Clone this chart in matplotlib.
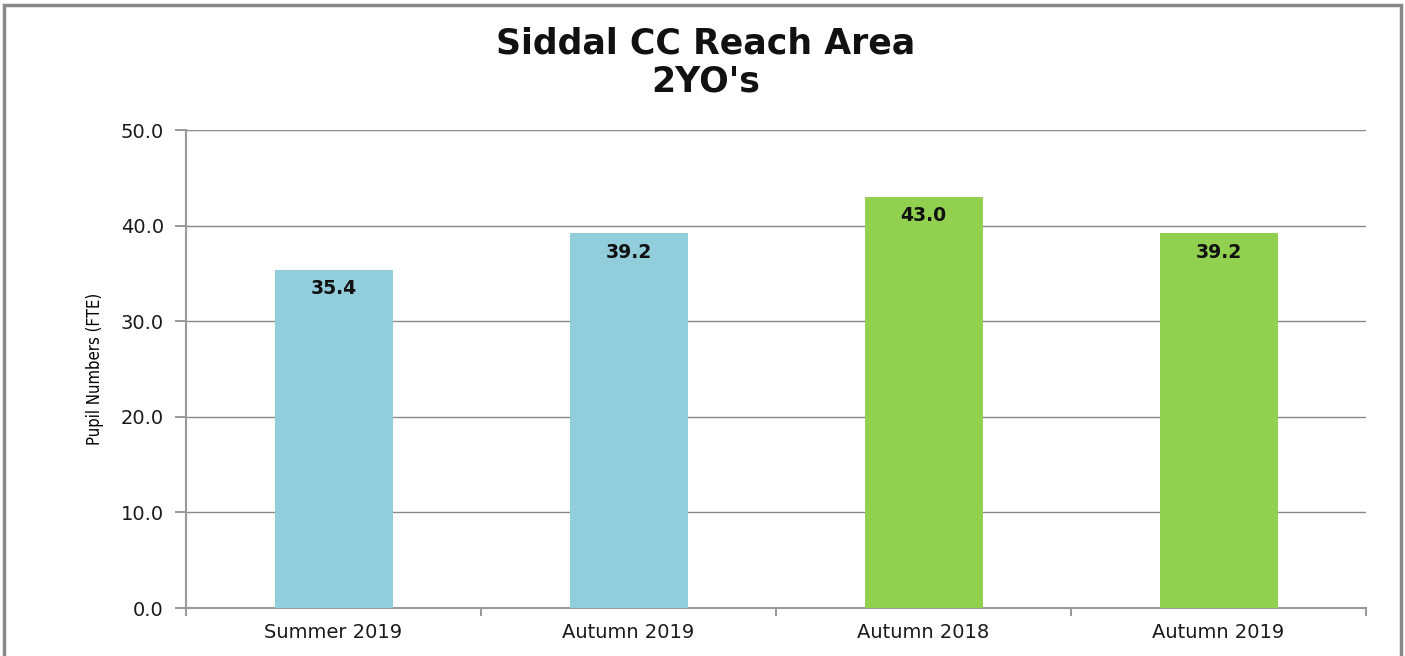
import numpy as np
import matplotlib.pyplot as plt
from matplotlib.patches import Rectangle

categories = ['Summer 2019', 'Autumn 2019', 'Autumn 2018', 'Autumn 2019']
values = [35.4, 39.2, 43.0, 39.2]
colors = ['#92CDDC', '#92CDDC', '#92D050', '#92D050']
yticks = [0, 10, 20, 30, 40, 50]

fig = plt.figure(figsize=(14.05, 6.56), dpi=100)
ax = fig.add_axes([186 / 1405, 1 - 608 / 656, (1366 - 186) / 1405, (608 - 130) / 656])

# outer chart frame like the spreadsheet chart border
fig.patches.append(Rectangle((4 / 1405, -0.05), (1401 - 4) / 1405, 1.05 - 5 / 656,
                             transform=fig.transFigure, fill=False,
                             edgecolor='#888888', linewidth=2.5))

x = np.arange(len(categories))
bars = ax.bar(x, values, width=0.4, color=colors, zorder=3)

for b, v in zip(bars, values):
    ax.text(b.get_x() + b.get_width() / 2, v - 1.0, f'{v:.1f}', ha='center', va='top',
            fontsize=13.5, fontweight='bold', color='#111111', zorder=4)

ax.set_xlim(-0.5, len(categories) - 0.5)
ax.set_ylim(0, 50)
ax.set_yticks(yticks)
ax.set_yticklabels([f'{t:.1f}' for t in yticks], fontsize=14, color='#1a1a1a')
ax.set_xticks(x)
ax.set_xticklabels(categories, fontsize=14, color='#1a1a1a')
ax.set_xticks(np.arange(-0.5, len(categories)), minor=True)
ax.tick_params(axis='x', which='major', length=0, pad=11)
ax.tick_params(axis='x', which='minor', length=6, color='#888888', width=1.2)
ax.tick_params(axis='y', length=8, color='#888888', width=1.2, pad=8)

ax.grid(axis='y', color='#888888', linewidth=1, zorder=0)
for side in ['top', 'right']:
    ax.spines[side].set_visible(False)
for side in ['left', 'bottom']:
    ax.spines[side].set_color('#999999')
    ax.spines[side].set_linewidth(1.5)

ax.set_ylabel('Pupil Numbers (FTE)', fontsize=12, fontstretch='condensed', labelpad=12)

fig.text(0.502, 0.905, "Siddal CC Reach Area\n2YO's", ha='center', va='center',
         fontsize=25, fontweight='bold', linespacing=1.15, color='#111111')

fig.savefig('out.png', dpi=100)
